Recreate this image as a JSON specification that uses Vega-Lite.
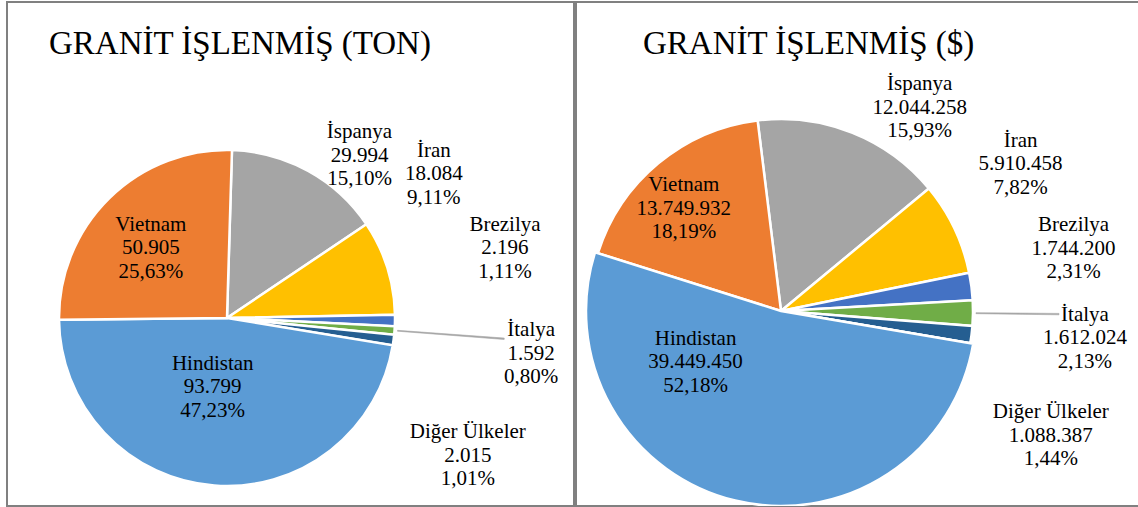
{
  "$schema": "https://vega.github.io/schema/vega-lite/v6.json",
  "padding": {"left": 6, "top": 1, "right": 0, "bottom": 0},
  "spacing": 0,
  "background": "white",
  "config": {
    "view": {"stroke": "#808080", "strokeWidth": 2},
    "concat": {"spacing": 0},
    "text": {"font": "Liberation Serif", "fontSize": 21, "lineHeight": 23.5, "align": "center", "baseline": "middle", "color": "#000000"}
  },
  "datasets": {
    "ton": [
      {"country": "İspanya", "value": 29994, "ord": 1},
      {"country": "İran", "value": 18084, "ord": 2},
      {"country": "Brezilya", "value": 2196, "ord": 3},
      {"country": "İtalya", "value": 1592, "ord": 4},
      {"country": "Diğer Ülkeler", "value": 2015, "ord": 5},
      {"country": "Hindistan", "value": 93799, "ord": 6},
      {"country": "Vietnam", "value": 50905, "ord": 7}
    ],
    "usd": [
      {"country": "İspanya", "value": 12044258, "ord": 1},
      {"country": "İran", "value": 5910458, "ord": 2},
      {"country": "Brezilya", "value": 1744200, "ord": 3},
      {"country": "İtalya", "value": 1612024, "ord": 4},
      {"country": "Diğer Ülkeler", "value": 1088387, "ord": 5},
      {"country": "Hindistan", "value": 39449450, "ord": 6},
      {"country": "Vietnam", "value": 13749932, "ord": 7}
    ]
  },
  "hconcat": [
    {
      "width": 567,
      "height": 504,
      "view": {"stroke": "#808080", "strokeWidth": 2},
      "data": {"name": "ton"},
      "title": {"text": "GRANİT İŞLENMİŞ (TON)", "anchor": "start", "orient": "top", "offset": -85, "dx": 42, "baseline": "alphabetic", "font": "Liberation Serif", "fontSize": 33, "fontWeight": "normal", "color": "#000000"},
      "transform": [
        {"joinaggregate": [{"op": "sum", "field": "value", "as": "total"}]},
        {"window": [{"op": "sum", "field": "value", "as": "cum"}], "sort": [{"field": "ord", "order": "ascending"}], "frame": [null, 0]},
        {"calculate": "datum.cum - datum.value / 2", "as": "mid"},
        {"calculate": "datum.mid - datum.total * 0.0004", "as": "lead0"},
        {"calculate": "datum.mid + datum.total * 0.0004", "as": "lead1"},
        {"calculate": "[datum.country, replace(format(datum.value, ',d'), regexp(',', 'g'), '.'), replace(format(100 * datum.value / datum.total, '.2f'), '.', ',') + '%']", "as": "label"}
      ],
      "layer": [
        {
          "mark": {"type": "arc", "radius": 168, "x": 220, "y": 316, "stroke": "white", "strokeWidth": 2.5},
          "encoding": {
            "theta": {"field": "value", "type": "quantitative", "stack": true, "scale": {"range": [0.0297, 6.3129]}},
            "order": {"field": "ord", "type": "quantitative"},
            "color": {"field": "country", "type": "nominal", "legend": null,
              "scale": {"domain": ["Hindistan", "Vietnam", "İspanya", "İran", "Brezilya", "İtalya", "Diğer Ülkeler"],
                        "range": ["#5B9BD5", "#ED7D31", "#A5A5A5", "#FFC000", "#4472C4", "#70AD47", "#255E91"]}}
          }
        },
        {
          "transform": [{"filter": "datum.country === 'İtalya'"}],
          "mark": {"type": "arc", "radius": 278, "radius2": 171, "x": 220, "y": 316, "fill": "#a6a6a6", "stroke": "#a6a6a6", "strokeWidth": 0.6},
          "encoding": {
            "theta": {"field": "lead0", "type": "quantitative", "stack": null},
            "theta2": {"field": "lead1"}
          }
        },
        {
          "transform": [{"filter": "datum.country === 'İspanya'"}],
          "mark": {"type": "text", "radius": 206, "dx": 33, "dy": -5.5, "x": 220, "y": 316},
          "encoding": {"theta": {"field": "mid", "type": "quantitative", "stack": null}, "text": {"field": "label"}}
        },
        {
          "transform": [{"filter": "datum.country === 'İran'"}],
          "mark": {"type": "text", "radius": 241, "dx": -23, "dy": -94.5, "x": 220, "y": 316},
          "encoding": {"theta": {"field": "mid", "type": "quantitative", "stack": null}, "text": {"field": "label"}}
        },
        {
          "transform": [{"filter": "datum.country === 'Brezilya'"}],
          "mark": {"type": "text", "radius": 277, "dx": 1, "dy": -97.5, "x": 220, "y": 316},
          "encoding": {"theta": {"field": "mid", "type": "quantitative", "stack": null}, "text": {"field": "label"}}
        },
        {
          "transform": [{"filter": "datum.country === 'İtalya'"}],
          "mark": {"type": "text", "radius": 306, "dx": -1, "dy": -10.5, "x": 220, "y": 316},
          "encoding": {"theta": {"field": "mid", "type": "quantitative", "stack": null}, "text": {"field": "label"}}
        },
        {
          "transform": [{"filter": "datum.country === 'Diğer Ülkeler'"}],
          "mark": {"type": "text", "radius": 257, "dx": -14, "dy": 80.5, "x": 220, "y": 316},
          "encoding": {"theta": {"field": "mid", "type": "quantitative", "stack": null}, "text": {"field": "label"}}
        },
        {
          "transform": [{"filter": "datum.country === 'Hindistan'"}],
          "mark": {"type": "text", "radius": 69, "dx": -9, "dy": -23, "x": 220, "y": 316},
          "encoding": {"theta": {"field": "mid", "type": "quantitative", "stack": null}, "text": {"field": "label"}}
        },
        {
          "transform": [{"filter": "datum.country === 'Vietnam'"}],
          "mark": {"type": "text", "radius": 103, "dx": -4, "dy": -19.5, "x": 220, "y": 316},
          "encoding": {"theta": {"field": "mid", "type": "quantitative", "stack": null}, "text": {"field": "label"}}
        }
      ]
    },
    {
      "width": 565,
      "height": 504,
      "view": {"stroke": "#808080", "strokeWidth": 2},
      "data": {"name": "usd"},
      "title": {"text": "GRANİT İŞLENMİŞ ($)", "anchor": "start", "orient": "top", "offset": -85, "dx": 67, "baseline": "alphabetic", "font": "Liberation Serif", "fontSize": 33, "fontWeight": "normal", "color": "#000000"},
      "transform": [
        {"joinaggregate": [{"op": "sum", "field": "value", "as": "total"}]},
        {"window": [{"op": "sum", "field": "value", "as": "cum"}], "sort": [{"field": "ord", "order": "ascending"}], "frame": [null, 0]},
        {"calculate": "datum.cum - datum.value / 2", "as": "mid"},
        {"calculate": "datum.mid - datum.total * 0.0004", "as": "lead0"},
        {"calculate": "datum.mid + datum.total * 0.0004", "as": "lead1"},
        {"calculate": "[datum.country, replace(format(datum.value, ',d'), regexp(',', 'g'), '.'), replace(format(100 * datum.value / datum.total, '.2f'), '.', ',') + '%']", "as": "label"}
      ],
      "layer": [
        {
          "mark": {"type": "arc", "radius": 192, "x": 205, "y": 309, "stroke": "white", "strokeWidth": 2.5},
          "encoding": {
            "theta": {"field": "value", "type": "quantitative", "stack": true, "scale": {"range": [-0.1222, 6.1610]}},
            "order": {"field": "ord", "type": "quantitative"},
            "color": {"field": "country", "type": "nominal", "legend": null,
              "scale": {"domain": ["Hindistan", "Vietnam", "İspanya", "İran", "Brezilya", "İtalya", "Diğer Ülkeler"],
                        "range": ["#5B9BD5", "#ED7D31", "#A5A5A5", "#FFC000", "#4472C4", "#70AD47", "#255E91"]}}
          }
        },
        {
          "mark": {"type": "arc", "radius": 195, "clip": true, "x": 205, "y": 309, "stroke": "white", "strokeWidth": 2.5},
          "encoding": {
            "theta": {"field": "value", "type": "quantitative", "stack": true},
            "order": {"field": "ord", "type": "quantitative"},
            "color": {"field": "country", "type": "nominal", "legend": null},
            "opacity": {"condition": {"test": "datum.country === 'Hindistan'", "value": 1}, "value": 0}
          }
        },
        {
          "transform": [{"filter": "datum.country === 'İtalya'"}],
          "mark": {"type": "arc", "radius": 278, "radius2": 195, "x": 205, "y": 309, "fill": "#a6a6a6", "stroke": "#a6a6a6", "strokeWidth": 0.6},
          "encoding": {
            "theta": {"field": "lead0", "type": "quantitative", "stack": null},
            "theta2": {"field": "lead1"}
          }
        },
        {
          "transform": [{"filter": "datum.country === 'İspanya'"}],
          "mark": {"type": "text", "radius": 240, "dx": 50, "dy": -3.5, "x": 205, "y": 309},
          "encoding": {"theta": {"field": "mid", "type": "quantitative", "stack": null}, "text": {"field": "label"}}
        },
        {
          "transform": [{"filter": "datum.country === 'İran'"}],
          "mark": {"type": "text", "radius": 280, "dx": -13, "dy": -49.5, "x": 205, "y": 309},
          "encoding": {"theta": {"field": "mid", "type": "quantitative", "stack": null}, "text": {"field": "label"}}
        },
        {
          "transform": [{"filter": "datum.country === 'Brezilya'"}],
          "mark": {"type": "text", "radius": 298, "dx": -3, "dy": -47.5, "x": 205, "y": 309},
          "encoding": {"theta": {"field": "mid", "type": "quantitative", "stack": null}, "text": {"field": "label"}}
        },
        {
          "transform": [{"filter": "datum.country === 'İtalya'"}],
          "mark": {"type": "text", "radius": 304, "dx": 0, "dy": 0.5, "x": 205, "y": 309},
          "encoding": {"theta": {"field": "mid", "type": "quantitative", "stack": null}, "text": {"field": "label"}}
        },
        {
          "transform": [{"filter": "datum.country === 'Diğer Ülkeler'"}],
          "mark": {"type": "text", "radius": 283, "dx": -11, "dy": 66.5, "x": 205, "y": 309},
          "encoding": {"theta": {"field": "mid", "type": "quantitative", "stack": null}, "text": {"field": "label"}}
        },
        {
          "transform": [{"filter": "datum.country === 'Hindistan'"}],
          "mark": {"type": "text", "radius": 70, "dx": -69, "dy": -40.5, "x": 205, "y": 309},
          "encoding": {"theta": {"field": "mid", "type": "quantitative", "stack": null}, "text": {"field": "label"}}
        },
        {
          "transform": [{"filter": "datum.country === 'Vietnam'"}],
          "mark": {"type": "text", "radius": 141, "dx": -7, "dy": -17.5, "x": 205, "y": 309},
          "encoding": {"theta": {"field": "mid", "type": "quantitative", "stack": null}, "text": {"field": "label"}}
        }
      ]
    }
  ]
}
